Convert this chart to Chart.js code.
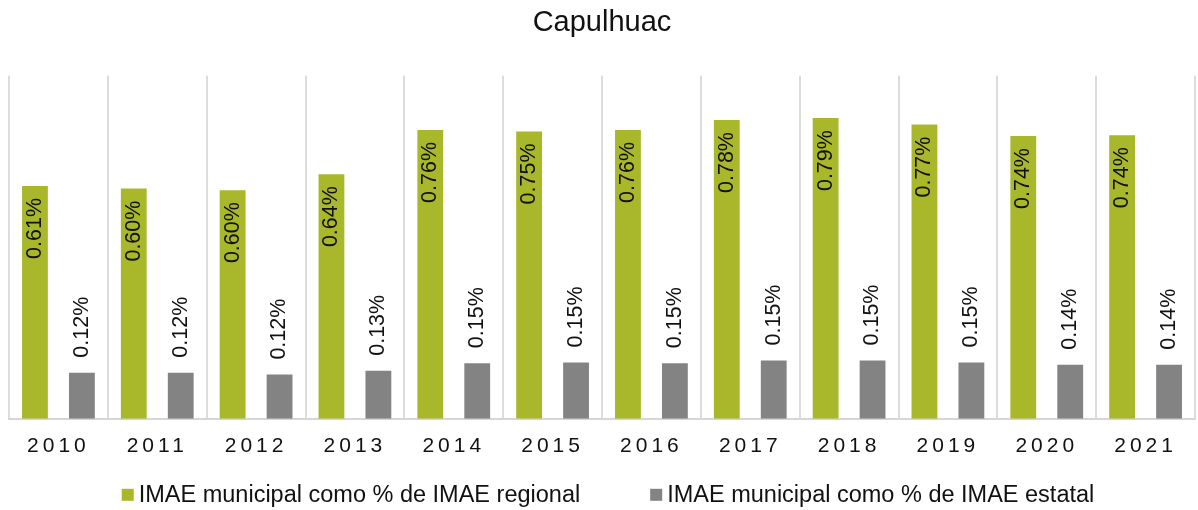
<!DOCTYPE html>
<html>
<head>
<meta charset="utf-8">
<title>Capulhuac</title>
<script src="https://cdn.jsdelivr.net/npm/chart.js@4.4.0/dist/chart.umd.min.js"></script>
<style>
    body { margin: 0; background: #fff; }
    #chart_box { width: 1198px; height: 510px; }
</style>
</head>
<body>
<div id="chart_box"><canvas id="capulhuac_chart" width="1198" height="510"></canvas></div>
<script>
// values (percent)
var years = ['2010', '2011', '2012', '2013', '2014', '2015', '2016', '2017', '2018', '2019', '2020', '2021'];
var regional_share = [0.611, 0.604, 0.600, 0.642, 0.758, 0.754, 0.758, 0.784, 0.789, 0.772, 0.742, 0.744];
var state_share = [0.121, 0.121, 0.116, 0.126, 0.146, 0.148, 0.146, 0.153, 0.153, 0.148, 0.142, 0.142];
var series_names = ['IMAE municipal como % de IMAE regional', 'IMAE municipal como % de IMAE estatal'];
var series_colors = ['#a8b82a', '#838383'];

var font_family = '"Liberation Sans", Arial, sans-serif';
var text_color = '#111';

// spread out the year labels like in the original
var spaced_x_labels = {
    id: 'spaced_x_labels',
    beforeDraw: function (chart) {
        var x_scale = chart.scales.x;
        if (x_scale._spaced) return;
        var original = x_scale.drawLabels;
        x_scale.drawLabels = function (area) {
            var ctx = this.ctx;
            ctx.save();
            ctx.letterSpacing = '4px';
            original.call(this, area);
            ctx.restore();
        };
        x_scale._spaced = true;
    }
};

// rotated value labels on the bars
var bar_value_labels = {
    id: 'bar_value_labels',
    afterDatasetsDraw: function (chart) {
        var ctx = chart.ctx;
        chart.data.datasets.forEach(function (dataset, d) {
            var meta = chart.getDatasetMeta(d);
            meta.data.forEach(function (bar, i) {
                var text = dataset.data[i].toFixed(2) + '%';
                ctx.save();
                ctx.font = '21.5px ' + font_family;
                ctx.fillStyle = text_color;
                ctx.textBaseline = 'middle';
                if (d === 0) {
                    ctx.translate(bar.x, bar.y + 12);
                    ctx.textAlign = 'right';
                } else {
                    ctx.translate(bar.x, bar.y - 15);
                    ctx.textAlign = 'left';
                }
                ctx.rotate(-Math.PI / 2);
                ctx.fillText(text, 0, 0);
                ctx.restore();
            });
        });
    }
};

// legend drawn by hand so the spacing matches
var bottom_legend = {
    id: 'bottom_legend',
    afterDraw: function (chart) {
        var ctx = chart.ctx;
        var box = 12, gap = 5, item_gap = 70;
        ctx.save();
        ctx.font = '23.5px ' + font_family;
        var widths = chart.data.datasets.map(function (ds) { return ctx.measureText(ds.label).width; });
        var total = box + gap + widths[0] + item_gap + box + gap + widths[1];
        var x = (chart.chartArea.left + chart.chartArea.right) / 2 - total / 2 + 6;
        var y = chart.chartArea.bottom + 76;
        ctx.textBaseline = 'middle';
        ctx.textAlign = 'left';
        chart.data.datasets.forEach(function (ds, i) {
            ctx.fillStyle = ds.backgroundColor;
            ctx.fillRect(x, y - box / 2, box, box);
            ctx.fillStyle = text_color;
            ctx.fillText(ds.label, x + box + gap, y + 1);
            x += box + gap + widths[i] + item_gap;
        });
        ctx.restore();
    }
};

var capulhuac_chart = new Chart(document.getElementById('capulhuac_chart').getContext('2d'), {
    type: 'bar',
    data: {
        labels: years,
        datasets: [{
            label: series_names[0],
            data: regional_share,
            backgroundColor: series_colors[0],
            categoryPercentage: 0.95,
            barPercentage: 0.55
        }, {
            label: series_names[1],
            data: state_share,
            backgroundColor: series_colors[1],
            categoryPercentage: 0.95,
            barPercentage: 0.55
        }]
    },
    options: {
        responsive: false,
        animation: false,
        devicePixelRatio: 1,
        layout: {
            padding: { left: 9, right: 3, top: 0, bottom: 36 }
        },
        scales: {
            x: {
                offset: true,
                grid: {
                    display: true,
                    offset: true,
                    color: '#dcdcdc',
                    lineWidth: 2,
                    drawTicks: false
                },
                border: { display: true, color: '#d6d6d6', width: 2 },
                ticks: {
                    color: text_color,
                    padding: 15,
                    font: { family: font_family, size: 21 }
                }
            },
            y: {
                display: false,
                min: 0,
                max: 0.9
            }
        },
        plugins: {
            legend: { display: false },
            tooltip: { enabled: false },
            title: {
                display: true,
                text: 'Capulhuac',
                color: text_color,
                font: { family: font_family, size: 29, weight: 'normal' },
                padding: { top: 6, bottom: 35 }
            }
        }
    },
    plugins: [spaced_x_labels, bar_value_labels, bottom_legend]
});
</script>
</body>
</html>
